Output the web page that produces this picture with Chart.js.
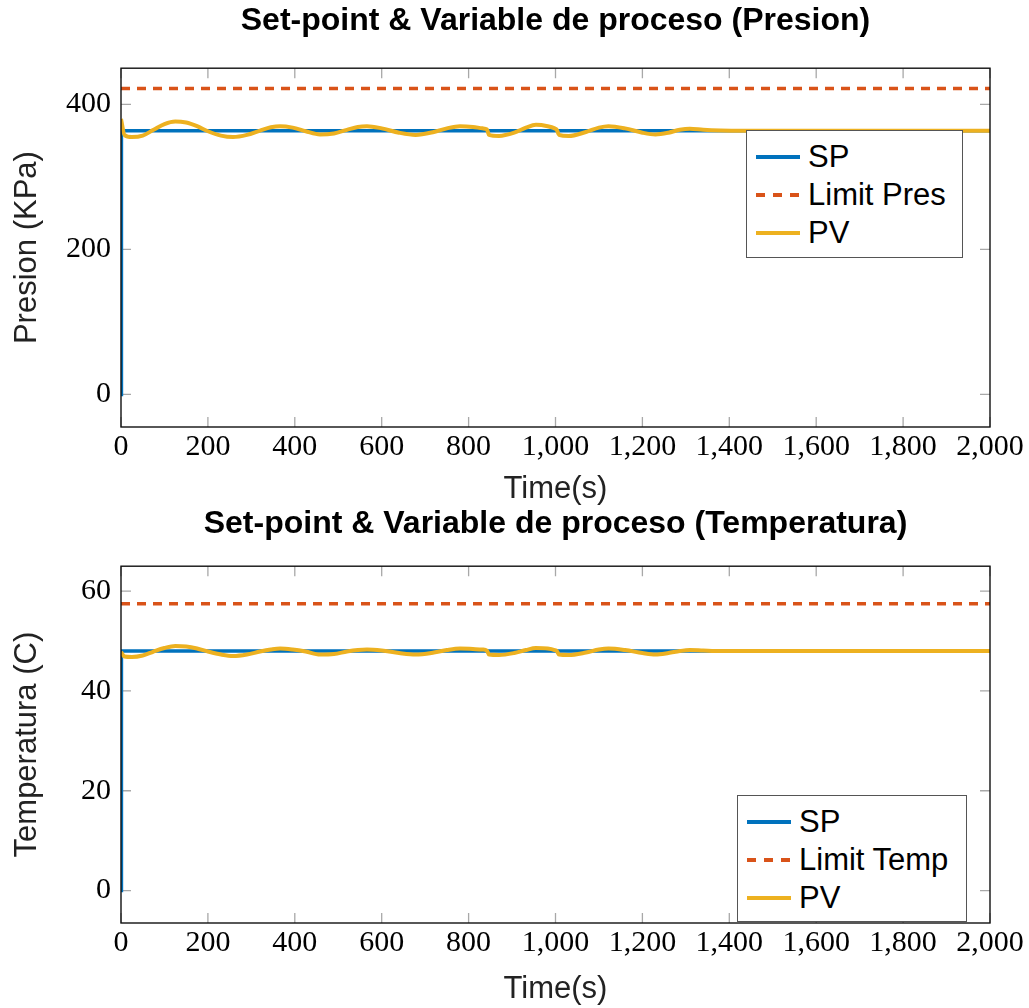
<!DOCTYPE html>
<html>
<head>
<meta charset="utf-8">
<title>Set-point &amp; Variable de proceso</title>
<script src="https://cdn.jsdelivr.net/npm/chart.js@4.4.0/dist/chart.umd.min.js"></script>
<style>
  body { margin: 0; background: #fff; width: 1029px; height: 1008px; position: relative; overflow: hidden; }
  .panel { position: absolute; left: 0; width: 1029px; }
  .legend {
    position: absolute; background: #fff; border: 1.5px solid #555; box-sizing: border-box;
    font-family: 'Liberation Sans', Arial, sans-serif; font-size: 31px; color: #000; padding-top: 7px;
  }
  .legend .row { display: flex; align-items: center; height: 38px; }
  .legend .swatch { width: 44px; height: 4px; margin: 0 8px 0 9px; }
</style>
</head>
<body>

<div class="panel" style="top:0;height:507px">
  <canvas id="presChart" width="1029" height="507"></canvas>
  <div id="presLegend" class="legend" style="left:746px;top:130px;width:217px;height:128px"></div>
</div>

<div class="panel" style="top:507px;height:501px">
  <canvas id="tempChart" width="1029" height="501"></canvas>
  <div id="tempLegend" class="legend" style="left:737px;top:288px;width:230px;height:127px"></div>
</div>

<script>
// time axis
const xTicks = [0, 200, 400, 600, 800, 1000, 1200, 1400, 1600, 1800, 2000];

// set-point step (s) and limits
const spTime = [0, 1, 2000];
const spPres = [0, 363.6, 363.6];
const spTemp = [0, 48, 48];
const limitPres = 422;
const limitTemp = 57.5;

// process variable samples
const pvTime = [0, 8, 25, 50, 75, 100, 125, 150, 175, 200,
  230, 258, 290, 320, 345, 366, 395, 425, 458, 490,
  520, 545, 566, 600, 640, 678, 720, 750, 780, 810,
  832, 842, 847, 870, 905, 932, 955, 982, 998, 1003,
  1008, 1030, 1070, 1100, 1122, 1160, 1200, 1230, 1260, 1286,
  1309, 1340, 1380, 1430, 2000];
const pvPres = [380, 358, 355, 357, 365, 373, 376.5, 375, 370, 363,
  357, 355, 358, 364, 368.5, 370, 368, 363, 358.6, 360,
  365, 369, 370, 367, 361, 358, 362, 367, 370, 369,
  367, 365.5, 358, 356.5, 361, 368, 372, 370, 367, 365,
  358, 356.5, 362, 368, 370, 367, 361, 358.6, 361, 365,
  366.5, 365, 364, 363.6, 363.6];
const pvTemp = [47.8, 46.9, 46.8, 47.1, 47.9, 48.6, 49.0, 48.9, 48.5, 47.9,
  47.3, 47.0, 47.3, 47.9, 48.3, 48.5, 48.3, 47.9, 47.3, 47.4,
  47.9, 48.2, 48.3, 48.1, 47.6, 47.3, 47.7, 48.2, 48.5, 48.4,
  48.3, 48.1, 47.3, 47.2, 47.6, 48.2, 48.6, 48.5, 48.2, 48.0,
  47.3, 47.2, 47.7, 48.3, 48.5, 48.2, 47.6, 47.3, 47.6, 48.0,
  48.2, 48.1, 48.0, 48.0, 48.0];

const presTicks = [0, 200, 400];
const tempTicks = [0, 20, 40, 60];

const BLUE = '#0072BD', ORANGE = '#D95319', YELLOW = '#EDB120';
const SANS = "'Liberation Sans', Arial, sans-serif";
const SERIF = "'Liberation Serif', 'Times New Roman', serif";

// pgfplots-style box: inward grey ticks on all four sides, dark frame
const frameTicks = {
  id: 'frameTicks',
  beforeDatasetsDraw(chart) {
    const { ctx, chartArea: a, scales: { x, y } } = chart;
    ctx.save();
    ctx.strokeStyle = '#a8a8a8';
    ctx.lineWidth = 1.3;
    ctx.beginPath();
    x.ticks.forEach(t => {
      const px = x.getPixelForValue(t.value);
      ctx.moveTo(px, a.bottom); ctx.lineTo(px, a.bottom - 10);
      ctx.moveTo(px, a.top); ctx.lineTo(px, a.top + 10);
    });
    y.ticks.forEach(t => {
      const py = y.getPixelForValue(t.value);
      ctx.moveTo(a.left, py); ctx.lineTo(a.left + 10, py);
      ctx.moveTo(a.right, py); ctx.lineTo(a.right - 10, py);
    });
    ctx.stroke();
    ctx.restore();
  },
  afterDatasetsDraw(chart) {
    const { ctx, chartArea: a } = chart;
    ctx.save();
    ctx.strokeStyle = '#111';
    ctx.lineWidth = 1.4;
    ctx.strokeRect(a.left, a.top, a.right - a.left, a.bottom - a.top);
    ctx.restore();
  }
};

const makeChart = (id, cfg) => {
  const ctx = document.getElementById(id).getContext('2d');
  return new Chart(ctx, {
    type: 'line',
    data: {
      datasets: [
        {
          label: 'SP',
          data: spTime.map((t, i) => ({ x: t, y: cfg.sp[i] })),
          borderColor: BLUE, borderWidth: 3.5, pointRadius: 0, tension: 0, order: 1
        },
        {
          label: cfg.limitLabel,
          data: [{ x: 0, y: cfg.limit }, { x: 2000, y: cfg.limit }],
          borderColor: ORANGE, borderWidth: 3.5, borderDash: [9, 7], pointRadius: 0, order: 2
        },
        {
          label: 'PV',
          data: pvTime.map((t, i) => ({ x: t, y: cfg.pv[i] })),
          borderColor: YELLOW, borderWidth: 4, pointRadius: 0,
          cubicInterpolationMode: 'monotone', order: 0
        }
      ]
    },
    options: {
      responsive: false,
      animation: false,
      layout: { autoPadding: false, padding: { left: 0, right: 39, top: 0, bottom: 0 } },
      plugins: {
        legend: { display: false },
        tooltip: { enabled: false },
        title: {
          display: true,
          fullSize: false,
          text: cfg.title,
          color: '#000',
          font: { family: SANS, size: 32, weight: 'bold', lineHeight: 1.1 },
          padding: cfg.titlePad
        }
      },
      scales: {
        x: {
          type: 'linear',
          min: 0, max: 2000,
          afterBuildTicks: s => { s.ticks = xTicks.map(v => ({ value: v })); },
          afterFit: s => { s.height = cfg.xHeight; },
          grid: { display: false, drawTicks: false },
          border: { display: false },
          ticks: {
            autoSkip: false, maxRotation: 0, padding: 2, color: '#000',
            font: { family: SERIF, size: 30 },
            callback: v => v.toLocaleString('en-US')
          },
          title: {
            display: true, text: 'Time(s)', color: '#222',
            font: { family: SANS, size: 31, lineHeight: 1.1 },
            padding: { top: 0, bottom: cfg.xTitlePad }
          }
        },
        y: {
          min: cfg.yMin, max: cfg.yMax,
          afterBuildTicks: s => { s.ticks = cfg.yTicks.map(v => ({ value: v })); },
          afterFit: s => { s.width = 121; },
          grid: { display: false, drawTicks: false },
          border: { display: false },
          ticks: { padding: 10, color: '#000', font: { family: SERIF, size: 30 } },
          title: {
            display: true, text: cfg.yTitle, color: '#222',
            font: { family: SANS, size: 31, lineHeight: 1.1 },
            padding: { top: 10, bottom: 0 }
          }
        }
      }
    },
    plugins: [frameTicks]
  });
};

// html legend, same look as the plot lines
const buildLegend = (chart, elId) => {
  const box = document.getElementById(elId);
  box.innerHTML = '';
  chart.data.datasets.forEach(ds => {
    const row = document.createElement('div');
    row.className = 'row';
    const sw = document.createElement('span');
    sw.className = 'swatch';
    if (ds.borderDash) {
      sw.style.background = `repeating-linear-gradient(90deg, ${ds.borderColor} 0 9px, transparent 9px 17px)`;
    } else {
      sw.style.background = ds.borderColor;
    }
    const txt = document.createElement('span');
    txt.textContent = ds.label;
    row.appendChild(sw);
    row.appendChild(txt);
    box.appendChild(row);
  });
};

const presChart = makeChart('presChart', {
  title: 'Set-point & Variable de proceso (Presion)',
  titlePad: { top: 4, bottom: 29 },
  yTitle: 'Presion (KPa)',
  yMin: -45, yMax: 450, yTicks: presTicks,
  sp: spPres, pv: pvPres, limit: limitPres, limitLabel: 'Limit Pres',
  xHeight: 80, xTitlePad: 0
});

const tempChart = makeChart('tempChart', {
  title: 'Set-point & Variable de proceso (Temperatura)',
  titlePad: { top: 0, bottom: 24 },
  yTitle: 'Temperatura (C)',
  yMin: -6.5, yMax: 65, yTicks: tempTicks,
  sp: spTemp, pv: pvTemp, limit: limitTemp, limitLabel: 'Limit Temp',
  xHeight: 85, xTitlePad: 1
});

buildLegend(presChart, 'presLegend');
buildLegend(tempChart, 'tempLegend');
</script>
</body>
</html>
